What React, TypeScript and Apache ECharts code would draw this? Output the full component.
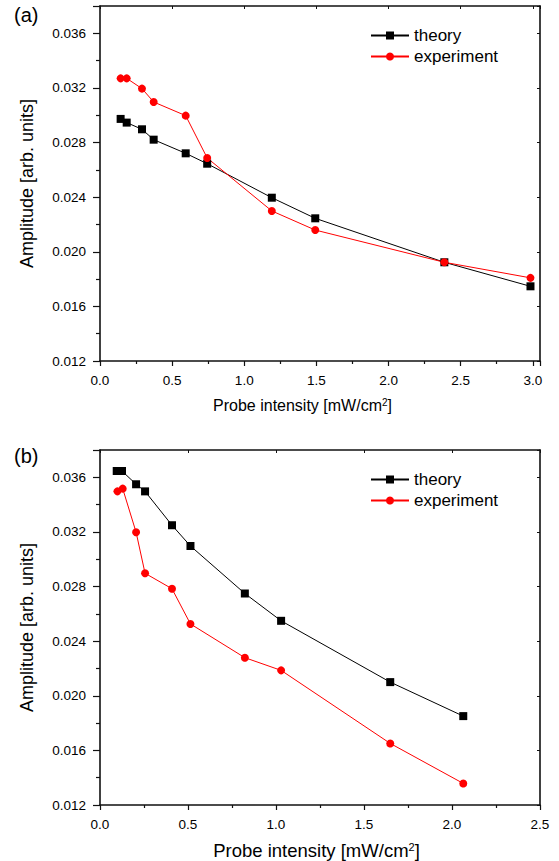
import React, { useEffect, useRef } from "react";
import * as echarts from "echarts";

const FONT = 'Arial, "Liberation Sans", Helvetica, sans-serif';

// Panel (a)
const xA = [0.143, 0.185, 0.291, 0.372, 0.594, 0.743, 1.191, 1.492, 2.387, 2.984];
const theoryA = [0.02973, 0.02946, 0.02897, 0.02821, 0.02721, 0.02645, 0.02396, 0.02245, 0.01923, 0.01747];
const experimentA = [0.0327, 0.0327, 0.03195, 0.03097, 0.02997, 0.02687, 0.02299, 0.02159, 0.01923, 0.01809];

// Panel (b)
const xTheoryB = [0.095, 0.125, 0.205, 0.256, 0.409, 0.514, 0.823, 1.029, 1.649, 2.064];
const theoryB = [0.03646, 0.03646, 0.03549, 0.03497, 0.03249, 0.03097, 0.02749, 0.02549, 0.021, 0.01851];
const xExpB = [0.099, 0.129, 0.205, 0.256, 0.409, 0.514, 0.823, 1.029, 1.649, 2.064];
const experimentB = [0.03497, 0.03517, 0.03198, 0.02897, 0.02784, 0.02526, 0.02279, 0.02186, 0.01651, 0.01358];

const seriesNames = ["theory", "experiment"];
const panelLabels = ["(a)", "(b)"];
const xTitle = "{a|Probe intensity [mW/cm}{s|2}{a|]}";
const yTitle = "Amplitude [arb. units]";

const zip = (xs: number[], ys: number[]) => xs.map((x, i) => [x, ys[i]]);

const AXIS_COLOR = "#111";

function bottomX(grid: number, max: number, showMax: boolean, titleSize: number, shift: number) {
  return {
    gridIndex: grid,
    type: "value",
    position: "bottom",
    min: 0,
    max,
    interval: 0.5,
    axisLine: { show: true, onZero: false, lineStyle: { color: AXIS_COLOR, width: 1.6 } },
    axisTick: { show: true, inside: false, length: 5, lineStyle: { color: AXIS_COLOR, width: 1.2 } },
    minorTick: { show: true, splitNumber: 2, length: 3, lineStyle: { color: AXIS_COLOR, width: 1.2 } },
    splitLine: { show: false },
    axisLabel: {
      formatter: (v: number) => v.toFixed(1),
      showMaxLabel: showMax,
      fontSize: 13.5,
      fontFamily: FONT,
      color: "#000",
      margin: 12,
    },
    name: xTitle,
    nameLocation: "middle",
    nameGap: 36,
    nameTextStyle: {
      padding: [0, shift, 0, 0],
      rich: {
        a: { fontSize: titleSize, fontFamily: FONT, color: "#000" },
        s: { fontSize: Math.round(titleSize * 0.6), fontFamily: FONT, color: "#000", verticalAlign: "top" },
      },
    },
  };
}

function topX(grid: number, max: number) {
  return {
    gridIndex: grid,
    type: "value",
    position: "top",
    min: 0,
    max,
    interval: 0.5,
    axisLine: { show: true, onZero: false, lineStyle: { color: AXIS_COLOR, width: 1.6 } },
    axisTick: { show: true, inside: true, length: 3, lineStyle: { color: AXIS_COLOR } },
    axisLabel: { show: false },
    splitLine: { show: false },
  };
}

function leftY(grid: number, titleSize: number) {
  return {
    gridIndex: grid,
    type: "value",
    position: "left",
    min: 0.012,
    max: 0.038,
    interval: 0.004,
    axisLine: { show: true, onZero: false, lineStyle: { color: AXIS_COLOR, width: 1.6 } },
    axisTick: { show: true, inside: false, length: 7, lineStyle: { color: AXIS_COLOR, width: 1.2 } },
    minorTick: { show: true, splitNumber: 2, length: 4, lineStyle: { color: AXIS_COLOR, width: 1.2 } },
    splitLine: { show: false },
    axisLabel: {
      formatter: (v: number) => v.toFixed(3),
      showMaxLabel: false,
      fontSize: 13.5,
      fontFamily: FONT,
      color: "#000",
      margin: 14,
    },
    name: yTitle,
    nameLocation: "middle",
    nameGap: 64,
    nameTextStyle: { fontSize: titleSize, fontFamily: FONT, color: "#000" },
  };
}

function rightY(grid: number) {
  return {
    gridIndex: grid,
    type: "value",
    position: "right",
    min: 0.012,
    max: 0.038,
    interval: 0.004,
    axisLine: { show: true, onZero: false, lineStyle: { color: AXIS_COLOR, width: 1.6 } },
    axisTick: { show: true, inside: true, length: 3, lineStyle: { color: AXIS_COLOR } },
    axisLabel: { show: false },
    splitLine: { show: false },
  };
}

function lineSeries(name: string, axisIdx: number, data: number[][], color: string, symbol: string) {
  return {
    name,
    type: "line",
    xAxisIndex: axisIdx,
    yAxisIndex: axisIdx,
    data,
    symbol,
    symbolSize: 8,
    lineStyle: { color, width: 1 },
    itemStyle: { color },
    emphasis: { disabled: true },
  };
}

function legend(top: number) {
  return {
    left: 370,
    top,
    orient: "vertical",
    padding: 0,
    itemWidth: 38,
    itemHeight: 10,
    itemGap: 4,
    textStyle: { fontSize: 17, fontFamily: FONT, color: "#000" },
    data: seriesNames,
  };
}

export default function App() {
  const ref = useRef<HTMLDivElement>(null);
  useEffect(() => {
    if (!ref.current) return;
    const chart = echarts.init(ref.current, undefined, { renderer: "svg" });
    chart.setOption({
      animation: false,
      backgroundColor: "#fff",
      textStyle: { fontFamily: FONT },
      title: [
        { text: panelLabels[0], left: 14, top: 5, padding: 0, textStyle: { fontSize: 20, fontWeight: "normal", fontFamily: FONT, color: "#000" } },
        { text: panelLabels[1], left: 14, top: 446, padding: 0, textStyle: { fontSize: 20, fontWeight: "normal", fontFamily: FONT, color: "#000" } },
      ],
      legend: [legend(27), legend(471)],
      grid: [
        { left: 100, right: 19, top: 6, height: 355 },
        { left: 100, right: 19, top: 450, height: 355 },
      ],
      xAxis: [bottomX(0, 3.05, false, 16, 35), topX(0, 3.05), bottomX(1, 2.5, true, 18.5, 7), topX(1, 2.5)],
      yAxis: [leftY(0, 18), rightY(0), leftY(1, 18), rightY(1)],
      series: [
        lineSeries(seriesNames[0], 0, zip(xA, theoryA), "#000000", "rect"),
        lineSeries(seriesNames[1], 0, zip(xA, experimentA), "#ff0000", "circle"),
        lineSeries(seriesNames[0], 2, zip(xTheoryB, theoryB), "#000000", "rect"),
        lineSeries(seriesNames[1], 2, zip(xExpB, experimentB), "#ff0000", "circle"),
      ],
    });
    return () => chart.dispose();
  }, []);
  return (
    <div
      ref={ref}
      style={{ position: "absolute", left: 0, top: 0, width: 559, height: 861, background: "#fff" }}
    />
  );
}
